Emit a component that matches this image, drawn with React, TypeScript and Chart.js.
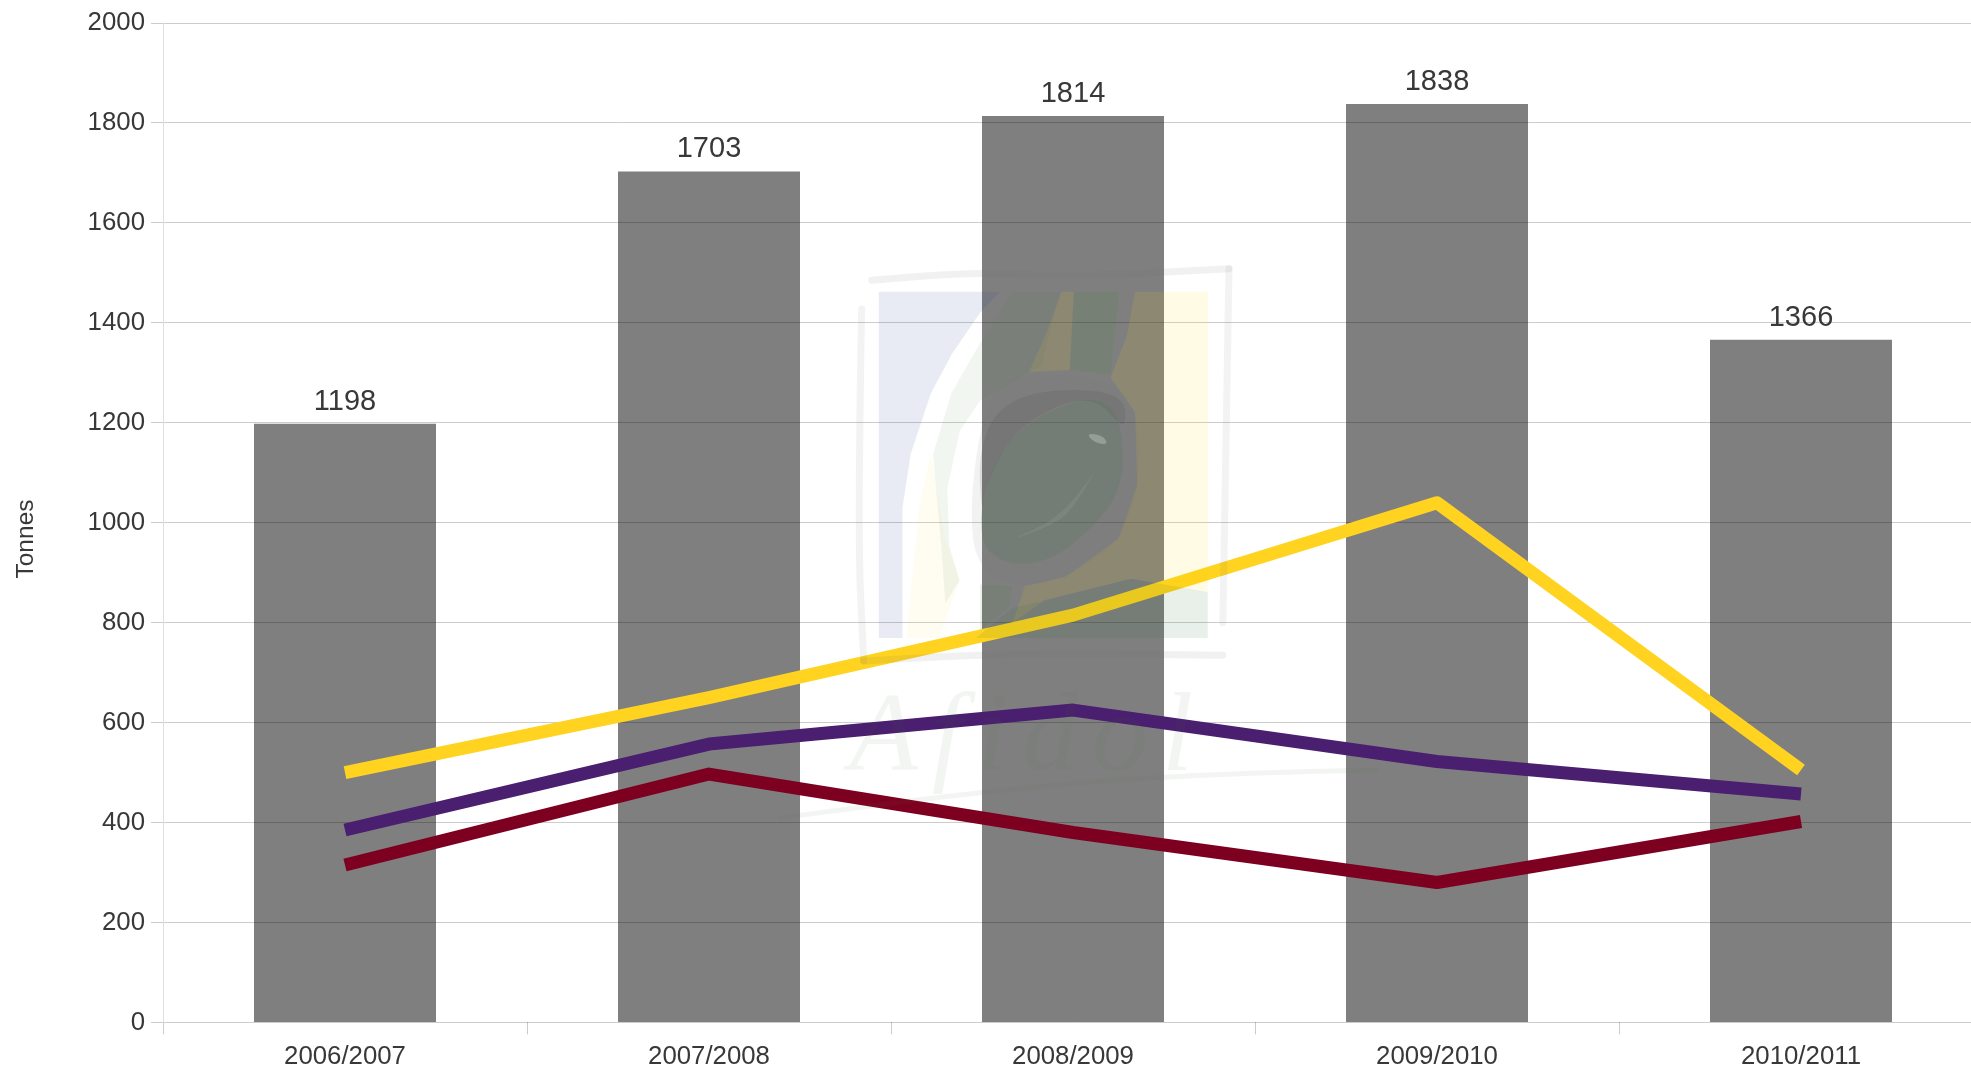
import React, { useEffect, useRef } from "react";
import { Chart, registerables } from "chart.js";

Chart.register(...registerables);

const categories = ["2006/2007", "2007/2008", "2008/2009", "2009/2010", "2010/2011"];
const totals = [1198, 1703, 1814, 1838, 1366];
const yellowSeries = [500, 650, 815, 1040, 505];
const purpleSeries = [385, 557, 625, 522, 457];
const redSeries = [315, 497, 380, 280, 402];
const yAxisTitle = "Tonnes";

const FONT = "'Liberation Sans', Arial, sans-serif";
const TEXT = "#383838";

type Pt = [number, number];
const P = (x: number, y: number): Pt => [780 + x / 2.45, 240 + y / 2.613];

function tracePath(ctx: CanvasRenderingContext2D, pts: number[], smooth: boolean, closed: boolean) {
  const list: Pt[] = [];
  for (let i = 0; i < pts.length; i += 2) list.push(P(pts[i], pts[i + 1]));
  ctx.beginPath();
  if (!smooth) {
    list.forEach(([x, y], i) => (i === 0 ? ctx.moveTo(x, y) : ctx.lineTo(x, y)));
  } else if (closed) {
    const n = list.length;
    ctx.moveTo((list[n - 1][0] + list[0][0]) / 2, (list[n - 1][1] + list[0][1]) / 2);
    for (let i = 0; i < n; i++) {
      const a = list[i];
      const b = list[(i + 1) % n];
      ctx.quadraticCurveTo(a[0], a[1], (a[0] + b[0]) / 2, (a[1] + b[1]) / 2);
    }
  } else {
    ctx.moveTo(list[0][0], list[0][1]);
    for (let i = 1; i < list.length - 1; i++) {
      const a = list[i];
      const b = list[i + 1];
      ctx.quadraticCurveTo(a[0], a[1], (a[0] + b[0]) / 2, (a[1] + b[1]) / 2);
    }
    const e = list[list.length - 1];
    ctx.lineTo(e[0], e[1]);
  }
  if (closed) ctx.closePath();
}

function poly(ctx: CanvasRenderingContext2D, pts: number[], fill: string, alpha: number, smooth = false) {
  ctx.save();
  ctx.globalAlpha = alpha;
  ctx.fillStyle = fill;
  tracePath(ctx, pts, smooth, true);
  ctx.fill();
  ctx.restore();
}

function stroke(ctx: CanvasRenderingContext2D, pts: number[], color: string, alpha: number, width: number) {
  ctx.save();
  ctx.globalAlpha = alpha;
  ctx.strokeStyle = color;
  ctx.lineWidth = width;
  ctx.lineJoin = "round";
  ctx.lineCap = "round";
  tracePath(ctx, pts, true, false);
  ctx.stroke();
  ctx.restore();
}

const watermark = {
  id: "watermark",
  afterDraw(chart: any) {
    const ctx: CanvasRenderingContext2D = chart.ctx;
    // pale blue panel
    poly(ctx, [242, 135, 540, 135, 490, 190, 420, 300, 370, 400, 320, 560, 300, 700, 300, 1040, 242, 1040], "rgb(25,55,145)", 0.1);
    // pale yellow panel
    poly(ctx, [870, 135, 1048, 135, 1048, 920, 860, 885, 650, 940, 570, 1000, 600, 905, 700, 880, 830, 780, 875, 640, 870, 450, 810, 360, 850, 250], "rgb(255,220,0)", 0.1);
    poly(ctx, [690, 135, 720, 135, 710, 340, 610, 345, 650, 250], "rgb(255,220,0)", 0.1);
    poly(ctx, [370, 560, 405, 780, 440, 890, 390, 1040, 310, 1040, 340, 700], "rgb(255,230,60)", 0.07);
    // greens
    poly(ctx, [1048, 920, 1048, 1040, 480, 1040, 570, 960, 640, 945, 860, 885], "rgb(40,110,40)", 0.1);
    poly(ctx, [570, 135, 685, 135, 640, 330, 600, 350, 490, 420, 440, 500, 410, 650, 415, 800, 440, 890, 405, 950, 395, 800, 375, 560, 420, 400, 490, 270], "rgb(60,130,50)", 0.07);
    poly(ctx, [720, 135, 830, 135, 810, 350, 710, 340], "rgb(60,130,50)", 0.13);
    poly(ctx, [490, 900, 570, 905, 560, 960, 490, 1020], "rgb(60,130,50)", 0.1);
    // oval ring
    poly(ctx, [600, 345, 820, 365, 880, 470, 880, 650, 830, 790, 700, 885, 570, 910, 480, 850, 465, 700, 490, 490, 530, 385], "rgb(110,110,110)", 0.09, true);
    poly(ctx, [640, 390, 840, 395, 850, 490, 820, 470, 780, 420, 700, 420, 570, 500, 500, 650, 495, 720, 485, 560, 530, 440], "rgb(70,70,70)", 0.13, true);
    // olive interior
    poly(ctx, [720, 415, 800, 420, 840, 490, 840, 650, 760, 760, 660, 840, 560, 850, 490, 800, 495, 650, 570, 500], "rgb(70,120,80)", 0.18, true);
    poly(ctx, [790, 570, 770, 610, 680, 730, 550, 790, 670, 745, 720, 700], "rgb(200,200,200)", 0.1, true);
    poly(ctx, [750, 505, 790, 510, 805, 535, 770, 530], "rgb(255,255,255)", 0.25, true);
    // hand-drawn frame
    const frame = "rgb(100,100,100)";
    stroke(ctx, [225, 105, 480, 80, 700, 98, 1100, 75], frame, 0.09, 7);
    stroke(ctx, [1100, 75, 1085, 1000], frame, 0.08, 7);
    stroke(ctx, [200, 180, 190, 760, 205, 1100], frame, 0.08, 7);
    stroke(ctx, [205, 1100, 520, 1078, 1085, 1085], frame, 0.09, 7);
    // signature
    ctx.save();
    ctx.globalAlpha = 0.07;
    ctx.fillStyle = "rgb(70,120,50)";
    ctx.font = "italic 112px 'Liberation Serif', serif";
    (ctx as any).letterSpacing = "14px";
    ctx.textAlign = "left";
    ctx.textBaseline = "alphabetic";
    const [sx, sy] = P(170, 1385);
    ctx.fillText("Afidol", sx, sy);
    ctx.restore();
    stroke(ctx, [1460, 1385, 1000, 1395, 500, 1440, 0, 1510], "rgb(70,120,50)", 0.07, 5);
  },
};

const overlayText = {
  id: "overlayText",
  afterDatasetsDraw(chart: any) {
    const ctx: CanvasRenderingContext2D = chart.ctx;
    const meta = chart.getDatasetMeta(0);
    ctx.save();
    ctx.font = `29px ${FONT}`;
    ctx.fillStyle = TEXT;
    ctx.textAlign = "center";
    ctx.textBaseline = "alphabetic";
    meta.data.forEach((bar: any, i: number) => {
      ctx.fillText(String(totals[i]), bar.x, bar.y - 14);
    });
    ctx.translate(33, 539);
    ctx.rotate(-Math.PI / 2);
    ctx.font = `24.5px ${FONT}`;
    ctx.fillText(yAxisTitle, 0, 0);
    ctx.restore();
  },
};

export default function App() {
  const ref = useRef<HTMLCanvasElement>(null);

  useEffect(() => {
    document.body.style.margin = "0";
    const lineStyle = {
      type: "line" as const,
      borderWidth: 13,
      pointRadius: 0,
      tension: 0,
      borderJoinStyle: "round" as const,
      borderCapStyle: "butt" as const,
      fill: false,
    };
    const chart = new Chart(ref.current!, {
      type: "bar",
      data: {
        labels: categories,
        datasets: [
          { type: "bar", label: "Total", data: totals, backgroundColor: "rgba(0,0,0,0.5)", barPercentage: 0.5, categoryPercentage: 1, order: 4 },
          { ...lineStyle, label: "Yellow", data: yellowSeries, borderColor: "#FFD320", order: 1 },
          { ...lineStyle, label: "Purple", data: purpleSeries, borderColor: "#4B1F6F", order: 2 },
          { ...lineStyle, label: "Red", data: redSeries, borderColor: "#7E0021", order: 3 },
        ],
      },
      options: {
        animation: false,
        responsive: false,
        layout: { padding: { top: 23, left: 0, right: 0, bottom: 0 } },
        plugins: { legend: { display: false }, tooltip: { enabled: false }, title: { display: false } },
        scales: {
          x: {
            offset: true,
            afterFit(scale: any) { scale.height = 48.6; },
            grid: { drawOnChartArea: false, drawTicks: true, tickLength: 12, tickColor: "rgba(0,0,0,0.2)", offset: true },
            border: { display: false },
            ticks: { color: TEXT, font: { family: FONT, size: 25.8 }, padding: 7, maxRotation: 0, autoSkip: false },
          },
          y: {
            min: 0,
            max: 2000,
            afterFit(scale: any) { scale.width = 163; },
            grid: { color: "rgba(0,0,0,0.2)", drawTicks: true, tickLength: 12, tickColor: "rgba(0,0,0,0.2)" },
            border: { display: true, color: "#DEDEDE", width: 1 },
            ticks: { stepSize: 200, color: TEXT, font: { family: FONT, size: 25.8 }, padding: 6, callback: (v: any) => String(v) },
          },
        },
      },
      plugins: [overlayText, watermark],
    } as any);
    return () => chart.destroy();
  }, []);

  return (
    <div style={{ position: "fixed", left: 0, top: 0, width: 1971, height: 1071, overflow: "hidden", background: "#fff" }}>
      <canvas ref={ref} width={1983} height={1071} style={{ display: "block", width: 1983, height: 1071 }} />
    </div>
  );
}
